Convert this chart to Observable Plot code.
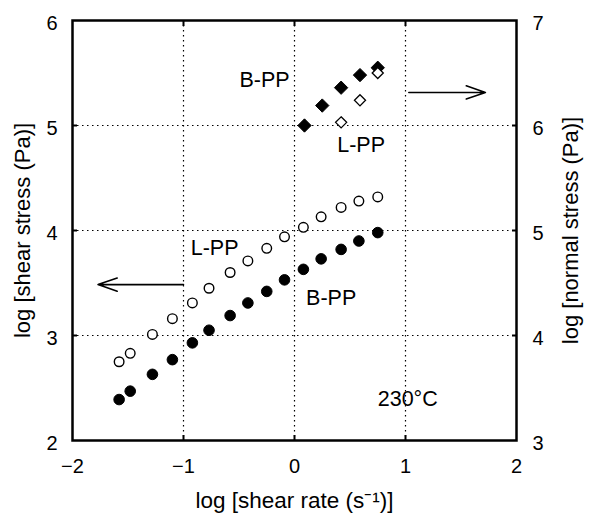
<!DOCTYPE html>
<html><head><meta charset="utf-8">
<script src="https://cdn.jsdelivr.net/npm/d3@7"></script>
<script src="https://cdn.jsdelivr.net/npm/@observablehq/plot@0.6"></script>
<style>body{margin:0;background:#fff;}</style>
</head><body><div id="chart"></div>
<script>
// log shear rate (s^-1) and log shear stress (Pa), left axis
const rateB = [-1.58, -1.48, -1.28, -1.10, -0.92, -0.77, -0.58, -0.42, -0.25, -0.09, 0.08, 0.24, 0.42, 0.58, 0.75];
const shearB = [2.39, 2.47, 2.63, 2.77, 2.93, 3.05, 3.19, 3.31, 3.42, 3.53, 3.63, 3.73, 3.82, 3.90, 3.98];
const rateL = [-1.58, -1.48, -1.28, -1.10, -0.92, -0.77, -0.58, -0.42, -0.25, -0.09, 0.08, 0.24, 0.42, 0.58, 0.75];
const shearL = [2.75, 2.83, 3.01, 3.16, 3.31, 3.45, 3.60, 3.71, 3.83, 3.94, 4.03, 4.13, 4.22, 4.28, 4.32];
// log normal stress (Pa), right axis
const nRateB = [0.09, 0.25, 0.42, 0.59, 0.75];
const normalB = [6.00, 6.19, 6.36, 6.48, 6.55];
const nRateL = [0.42, 0.59, 0.75];
const normalL = [6.03, 6.24, 6.50];
// tick values
const xTicks = [-2, -1, 0, 1, 2];
const yTicks = [2, 3, 4, 5, 6];
const innerX = [-1, 0, 1];
const innerY = [3, 4, 5];
const rightOffset = 1; // right axis = left axis + 1
// annotations (data coordinates)
const noteText = ["B-PP", "L-PP", "L-PP", "B-PP", "230°C"];
const noteX = [-0.27, 0.60, -0.72, 0.33, 1.02];
const noteY = [5.43, 4.81, 3.83, 3.36, 2.39];
const arrowX1 = [1.03, -1.0];
const arrowX2 = [1.72, -1.77];
const arrowY = [5.315, 3.485];

const sB = rateB.map((x, i) => ({x, y: shearB[i]}));
const sL = rateL.map((x, i) => ({x, y: shearL[i]}));
const nB = nRateB.map((x, i) => ({x, y: normalB[i] - rightOffset}));
const nL = nRateL.map((x, i) => ({x, y: normalL[i] - rightOffset}));
const notes = noteText.map((t, i) => ({t, x: noteX[i], y: noteY[i]}));
const arrows = arrowX1.map((x1, i) => ({x1, x2: arrowX2[i], y: arrowY[i]}));

const font = "Liberation Sans, Arial, Helvetica, sans-serif";
const chart = Plot.plot({
  width: 589, height: 519,
  marginLeft: 72, marginRight: 73, marginTop: 20, marginBottom: 79,
  style: {fontFamily: font, fontSize: "20px", color: "black", background: "white"},
  x: {domain: [-2, 2]},
  y: {domain: [2, 6]},
  marks: [
    Plot.gridX(innerX, {stroke: "black", strokeOpacity: 1, strokeDasharray: "1.5,3.5", strokeWidth: 1.2}),
    Plot.gridY(innerY, {stroke: "black", strokeOpacity: 1, strokeDasharray: "1.5,3.5", strokeWidth: 1.2}),
    Plot.axisX(xTicks, {anchor: "bottom", tickSize: 0, tickPadding: 18, fontSize: 20, tickFormat: d => d < 0 ? "\u2212" + (-d) : String(d), label: null}),
    Plot.axisX({anchor: "bottom", ticks: [], tickSize: 0, fontSize: 22.5, label: "log [shear rate (s⁻¹)]", labelAnchor: "center", labelOffset: 67, labelArrow: "none", dx: -14}),
    Plot.axisY(yTicks, {anchor: "left", tickSize: 0, tickPadding: 15, fontSize: 20, dy: 3, tickFormat: d => String(d), label: null}),
    Plot.axisY({anchor: "left", ticks: [], tickSize: 0, fontSize: 22, label: "log [shear stress (Pa)]", labelAnchor: "center", labelOffset: 58, labelArrow: "none"}),
    Plot.axisY(yTicks, {anchor: "right", tickSize: 0, tickPadding: 16, fontSize: 20, dy: 3, tickFormat: d => String(d + rightOffset), label: null}),
    Plot.axisY({anchor: "right", ticks: [], tickSize: 0, fontSize: 22, label: "log [normal stress (Pa)]", labelAnchor: "center", labelOffset: 61, labelArrow: "none"}),
    Plot.axisX(innerX, {anchor: "bottom", tickSize: 5, dy: -5, tickFormat: () => "", label: null, strokeWidth: 2}),
    Plot.axisX(innerX, {anchor: "top", tickSize: 5, dy: 5, tickFormat: () => "", label: null, strokeWidth: 2}),
    Plot.axisY(innerY, {anchor: "left", tickSize: 5, dx: 5, tickFormat: () => "", label: null, strokeWidth: 2}),
    Plot.axisY(innerY, {anchor: "right", tickSize: 5, dx: -5, tickFormat: () => "", label: null, strokeWidth: 2}),
    Plot.frame({stroke: "black", strokeWidth: 2.5}),
    Plot.dot(sB, {x: "x", y: "y", r: 5.3, fill: "black", stroke: "black", strokeWidth: 1}),
    Plot.dot(sL, {x: "x", y: "y", r: 4.8, fill: "white", stroke: "black", strokeWidth: 1.4}),
    Plot.dot(nB, {x: "x", y: "y", r: 6, symbol: "diamond2", fill: "black", stroke: "black", strokeWidth: 1}),
    Plot.dot(nL, {x: "x", y: "y", r: 5, symbol: "diamond2", fill: "white", stroke: "black", strokeWidth: 1.3}),
    Plot.arrow(arrows, {x1: "x1", x2: "x2", y1: "y", y2: "y", stroke: "black", strokeWidth: 1.6, headLength: 19, headAngle: 38}),
    Plot.text(notes, {x: "x", y: "y", text: "t", fontSize: 21.5, fill: "black", textAnchor: "middle"})
  ]
});
document.getElementById("chart").append(chart);
</script>
</body></html>
